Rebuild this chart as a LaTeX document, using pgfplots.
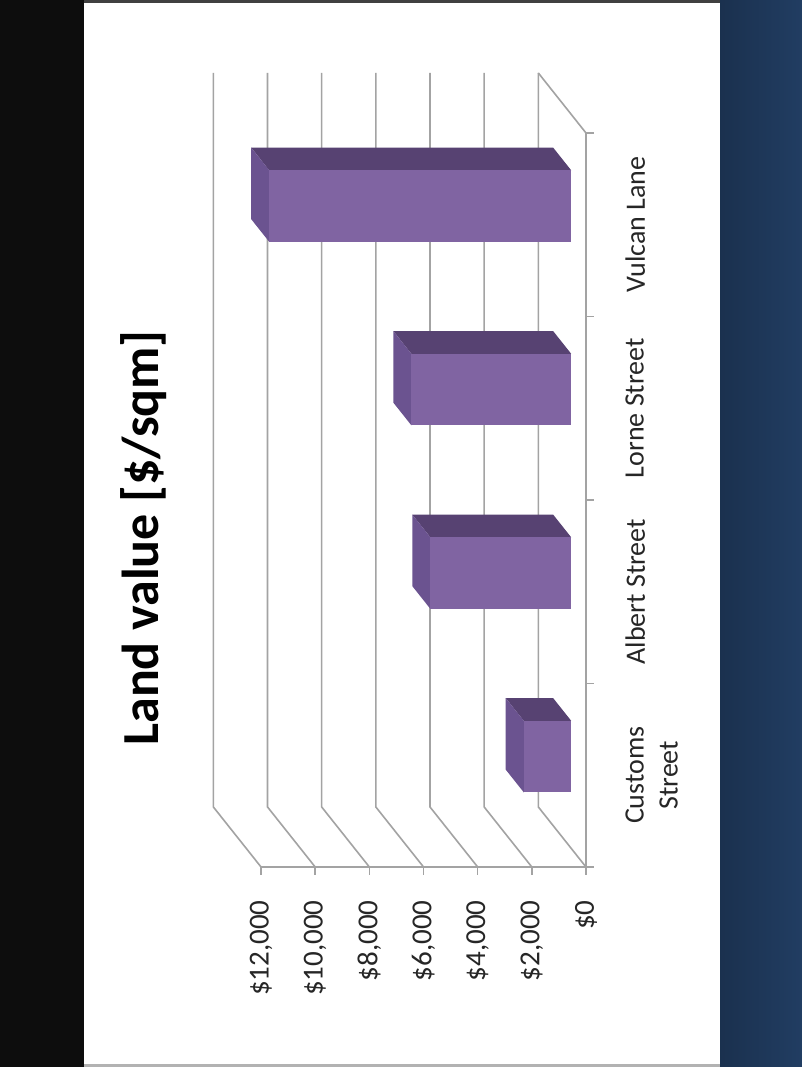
\documentclass[border=0pt]{standalone}
\usepackage{pgfplots}
\pgfplotsset{compat=1.18}
\usepackage{pgfplotstable}
\usepackage{fontspec}
\setmainfont{Carlito}
\definecolor{barfront}{HTML}{8064A2}
\definecolor{bartop}{HTML}{574272}
\definecolor{barcap}{HTML}{6B5390}
\definecolor{gridc}{HTML}{A3A3A3}
\definecolor{slideblue}{HTML}{213D62}

\pgfplotstableread{
cat value
0 1750
1 5200
2 5900
3 11150
}\landdata

\pgfplotstableread{
u w
0 0
1 0
1 1
0 1
}\facecorners

\pgfplotstableread{
d h
0 0
1 0
1 1
}\gridpath

\begin{document}
\begin{tikzpicture}[x=1pt,y=1pt]
\useasboundingbox (0,0) rectangle (802,1067);
\fill[black!95] (0,0) rectangle (84,1067);
\fill[gray!50!black] (84,1064) rectangle (720,1067);
\fill[white] (84,3) rectangle (720,1064);
\fill[gray!60] (84,0) rectangle (720,3);
\shade[left color=slideblue!80!black, right color=slideblue] (720,0) rectangle (802,1067);
\node[rotate=90, anchor=base, font=\fontsize{52}{60}\selectfont\bfseries] at (158,529) {Land value [\$/sqm]};
\begin{axis}[
 at={(586pt,200pt)}, anchor=south east,
 scale only axis, width=372.9pt, height=794pt,
 xmin=0, xmax=13770, ymin=-0.5, ymax=3.827,
 x dir=reverse,
 clip=false,
 axis line style={draw=none},
 major tick length=0pt,
 scaled x ticks=false,
 xtick={0,2000,4000,6000,8000,10000,12000},
 xticklabels={{\$0},{\$2,000},{\$4,000},{\$6,000},{\$8,000},{\$10,000},{\$12,000}},
 xticklabel style={rotate=90, anchor=east, font=\fontsize{29}{32}\selectfont, text=black!85},
 xticklabel shift=30pt,
 ytick={0,1,2,3},
 yticklabels={{Customs\\Street},{Albert Street},{Lorne Street},{Vulcan Lane}},
 yticklabel pos=right,
 yticklabel style={rotate=90, anchor=north, align=center, font=\fontsize{28}{34}\selectfont, text=black!85},
 yticklabel shift=36pt,
]
\pgfplotsinvokeforeach{0,2000,4000,6000,8000,10000,12000}{
 \addplot[gridc, line width=1.6pt] table[x expr={#1+1760*\thisrow{d}}, y expr={-0.5+0.327*\thisrow{d}+4*\thisrow{h}}] \gridpath;
 \addplot[gridc, line width=1.6pt] coordinates {(#1,-0.5) (#1,-0.544)};
}
\addplot[gridc, line width=1.6pt] coordinates {(1760,3.827) (0,3.5) (0,-0.5) (12000,-0.5)};
\pgfplotsinvokeforeach{-0.5,0.5,1.5,2.5,3.5}{
 \addplot[gridc, line width=1.6pt] coordinates {(0,#1) (-300,#1)};
}
\pgfplotsinvokeforeach{0,1,2,3}{
 \pgfplotstablegetelem{#1}{value}\of\landdata
 \edef\barv{\pgfplotsretval}
 \addplot[fill=bartop, draw=none] table[x expr={\barv*\thisrow{u}+1760*(0.31+0.38*\thisrow{w})}, y expr={#1+0.195+0.327*(0.31+0.38*\thisrow{w})}] \facecorners;
 \addplot[fill=barcap, draw=none] table[x expr={\barv+1760*(0.31+0.38*\thisrow{u})}, y expr={#1-0.195+0.39*\thisrow{w}+0.327*(0.31+0.38*\thisrow{u})}] \facecorners;
 \addplot[fill=barfront, draw=none] table[x expr={1760*0.31+\barv*\thisrow{u}}, y expr={#1-0.195+0.39*\thisrow{w}+0.327*0.31}] \facecorners;
}
\end{axis}
\end{tikzpicture}
\end{document}
